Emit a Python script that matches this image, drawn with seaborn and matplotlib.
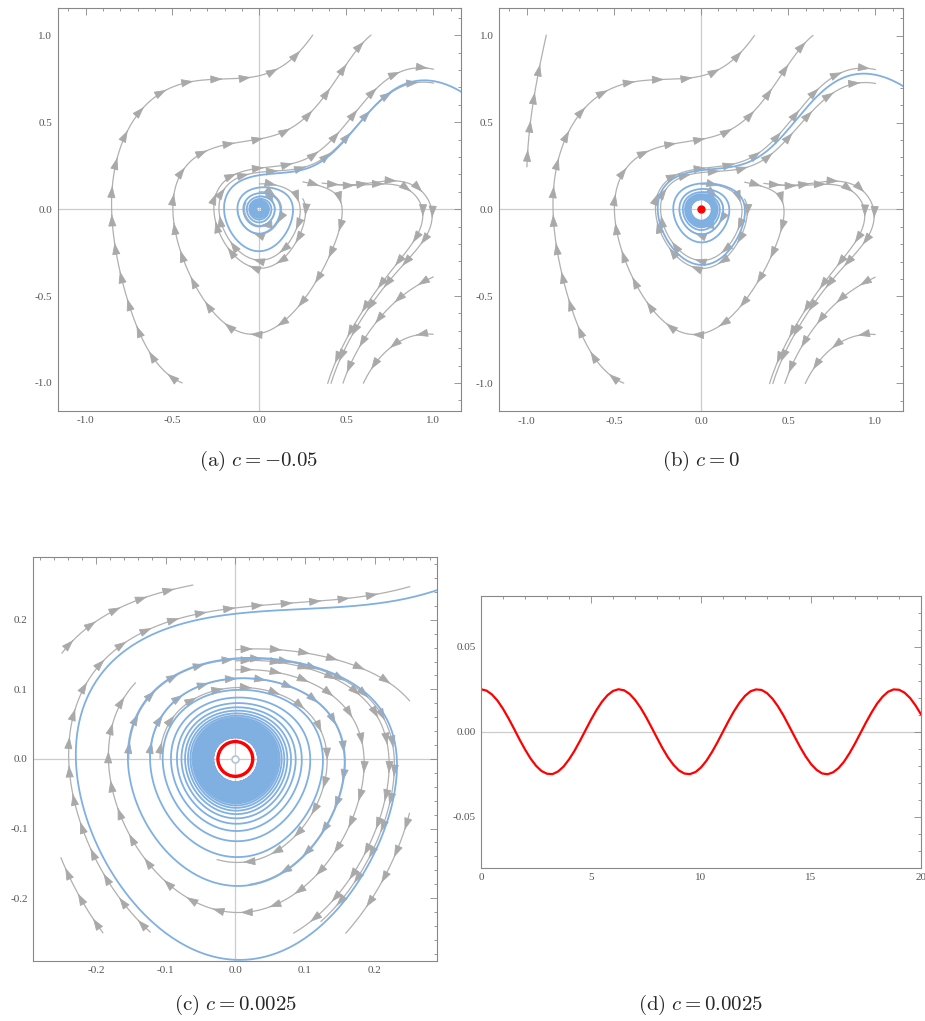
import numpy as np
import matplotlib
matplotlib.use('Agg')
import matplotlib.pyplot as plt
from matplotlib.ticker import MultipleLocator, FormatStrFormatter
import seaborn as sns

# parameter of each phase portrait
c_values = [-0.05, 0.0, 0.0025]

# vector field x' = y + P(x, y), y' = -x - c*y + Q(x, y)
# monomials: x2, xy, y2, x3, x2y, xy2, y3, x4, x3y, x2y2, xy3, y4
p_coef = [0.0036, -0.7102, -0.0008, 0.0589, 0.2858, -0.1160,
          -0.4978, 0.0287, 1.8831, 0.4944, -0.0350, -0.0424]
q_coef = [1.2651, 3.2788, 0.3755, 0.4635, 0.6290, 0.3263,
          0.3101, -1.1926, -3.5975, 0.3538, -1.4970, -0.6818]
radial_coef = 1.3282

# streamline seeds (x, y, max length in panel units)
seeds_a = [(-0.444, -1.0, 4), (0.0, 0.145, 4), (0.25, 0.06, 4), (0.25, 0.157, 4), (0.36, 0.15, 4),
           (0.45, 0.14, 4), (1.0, -0.39, 4), (1.0, -0.72, 4), (0.0, 0.10, 0.6), (0.0, 0.075, 0.45)]
seeds_b = seeds_a + [(-1.0, 0.245, 4)]
seeds_c = [(-0.249, 0.152, 4), (-0.122, -0.249, 4), (0.0, 0.157, 4), (0.0, 0.141, 4), (0.0, 0.128, 4),
           (0.25, -0.078, 4), (-0.19, -0.25, 4), (-0.153, 0.0, 3.2), (-0.122, 0.0, 2.6), (-0.108, 0.0, 2.4)]

# highlighted orbit: a point near which it passes, and its inner radius
blue_through = [(0.35, 0.27), (0.37, 0.33), (0.0, 0.157)]
blue_r_in = [0.015, 0.057, 0.031]
cycle_radius = 0.025

# panel (d): x(t) on the limit cycle
t_vals = [0, 0.25, 0.5, 0.75, 1, 1.25, 1.5, 1.75, 2, 2.25, 2.5, 2.75, 3, 3.25, 3.5, 3.75, 4, 4.25, 4.5, 4.75,
          5, 5.25, 5.5, 5.75, 6, 6.25, 6.5, 6.75, 7, 7.25, 7.5, 7.75, 8, 8.25, 8.5, 8.75, 9, 9.25, 9.5, 9.75,
          10, 10.25, 10.5, 10.75, 11, 11.25, 11.5, 11.75, 12, 12.25, 12.5, 12.75, 13, 13.25, 13.5, 13.75,
          14, 14.25, 14.5, 14.75, 15, 15.25, 15.5, 15.75, 16, 16.25, 16.5, 16.75, 17, 17.25, 17.5, 17.75,
          18, 18.25, 18.5, 18.75, 19, 19.25, 19.5, 19.75, 20]
x_vals = [0.0250, 0.0242, 0.0219, 0.0183, 0.0135, 0.0079, 0.0018, -0.0045, -0.0104, -0.0157, -0.0200, -0.0231,
          -0.0247, -0.0249, -0.0234, -0.0205, -0.0163, -0.0112, -0.0053, 0.0009, 0.0071, 0.0128, 0.0177, 0.0215,
          0.0240, 0.0250, 0.0244, 0.0223, 0.0188, 0.0142, 0.0087, 0.0026, -0.0036, -0.0097, -0.0151, -0.0195,
          -0.0228, -0.0246, -0.0249, -0.0237, -0.0210, -0.0170, -0.0119, -0.0061, 0.0001, 0.0063, 0.0121, 0.0171,
          0.0211, 0.0238, 0.0249, 0.0246, 0.0227, 0.0194, 0.0149, 0.0095, 0.0034, -0.0028, -0.0089, -0.0144,
          -0.0190, -0.0224, -0.0245, -0.0250, -0.0239, -0.0214, -0.0176, -0.0126, -0.0069, -0.0007, 0.0055,
          0.0113, 0.0165, 0.0206, 0.0235, 0.0249, 0.0247, 0.0230, 0.0199, 0.0155, 0.0102]

P_COEF = np.array(p_coef); Q_COEF = np.array(q_coef)


def field(x, y, c):
    m = np.array([x*x, x*y, y*y, x**3, x*x*y, x*y*y, y**3,
                  x**4, x**3*y, x*x*y*y, x*y**3, y**4])
    r2 = x*x + y*y
    g = radial_coef*r2*np.exp(-r2/0.0625)
    return y + P_COEF @ m + g*x, -x - c*y + Q_COEF @ m + g*y


def trace(p0, c, ds, box, smax=np.inf, sign=1.0, rmin=0.0, adapt=False, nmax=60000):
    p = np.array(p0, float); pts = [p.copy()]; s = 0.0

    def f(q):
        u, v = field(q[0], q[1], c); n = np.hypot(u, v) + 1e-12
        return sign*np.array([u/n, v/n])

    for _ in range(nmax):
        h = ds*max(np.hypot(*p), 0.005) if adapt else ds
        k1 = f(p); k2 = f(p + h/2*k1); k3 = f(p + h/2*k2); k4 = f(p + h*k3)
        p = p + h/6*(k1 + 2*k2 + 2*k3 + k4); s += h
        pts.append(p.copy())
        if abs(p[0]) > box or abs(p[1]) > box or s > smax or np.hypot(*p) < rmin:
            break
    return np.array(pts)


def blue_orbit(k, c, L, lim):
    # the orbit leaving the inner spiral and escaping to the upper right, near the given point
    x0, y0 = blue_through[k]
    weak = None
    any_orbit = None
    for j in range(80):
        dy = (j + 1)//2*0.002*L*(1 if j % 2 else -1)
        p0 = (x0, y0 + dy)
        fwd = trace(p0, c, 0.02, lim, adapt=True, nmax=3000)
        end = fwd[-1]
        if not (end[0] > 0.5*lim and end[1] > 0 and max(abs(end[0]), abs(end[1])) > lim):
            continue
        strong = end[1] > 0.4*lim
        if weak is not None and not strong:
            continue
        back = trace(p0, c, 0.02, lim, sign=-1.0, rmin=blue_r_in[k], adapt=True)
        orbit = np.vstack([back[::-1], fwd[1:]])
        ok = np.hypot(*back[-1]) < blue_r_in[k]*1.05
        if any_orbit is None:
            any_orbit = orbit
        if ok and strong:
            return orbit
        if ok and weak is None:
            weak = orbit
    return weak if weak is not None else any_orbit


def add_arrows(ax, P, spacing):
    seg = np.hypot(*np.diff(P, axis=0).T); cs = np.r_[0, np.cumsum(seg)]
    for s in np.arange(spacing*0.6, cs[-1] - spacing*0.2, spacing):
        i = np.searchsorted(cs, s)
        if i < 2 or i >= len(P) - 1:
            continue
        ax.annotate('', xy=P[i], xytext=P[i-1], zorder=3,
                    arrowprops=dict(arrowstyle='-|>,head_length=1.0,head_width=0.34', color='#a9a9a9',
                                    lw=0.6, shrinkA=0, shrinkB=0, mutation_scale=7.5))


gray = '#b0b0b0'
blue = '#80b0e2'

sns.set_style('white')
plt.rcParams['font.family'] = ['Liberation Serif', 'DejaVu Serif']
plt.rcParams['mathtext.fontset'] = 'cm'

fig = plt.figure(figsize=(9.25, 10.21), dpi=100)
ax_a = fig.add_axes([0.0624, 0.5977, 0.436, 0.3949])
ax_b = fig.add_axes([0.5395, 0.5975, 0.4368, 0.3947])
ax_c = fig.add_axes([0.036, 0.0591, 0.4368, 0.3951])
ax_d = fig.add_axes([0.52, 0.1501, 0.4757, 0.2664])

panels = [(ax_a, 0, 1.0, seeds_a, 0.0), (ax_b, 1, 1.0, seeds_b, 0.0), (ax_c, 2, 0.25, seeds_c, c_values[2])]
for ax, k, L, seeds, c_gray in panels:
    c = c_values[k]
    lim = L*1.16
    ax.axhline(0, color='#cccccc', lw=0.9, zorder=0)
    ax.axvline(0, color='#cccccc', lw=0.9, zorder=0)
    for x0, y0, smax in seeds:
        P = trace((x0, y0), c_gray, 0.004*L, L + 1e-9, smax*L)
        ax.plot(P[:, 0], P[:, 1], color=gray, lw=0.9, zorder=2)
        add_arrows(ax, P, 0.165*L)
    B = blue_orbit(k, c, L, lim)
    if B is not None:
        ax.plot(B[:, 0], B[:, 1], color=blue, lw=1.3, zorder=4)
    ax.set_xlim(-lim, lim); ax.set_ylim(-lim, lim)

ax_b.plot([0], [0], 'o', color='red', ms=5, zorder=6)
ax_c.add_patch(plt.Circle((0, 0), cycle_radius, fill=False, color='red', lw=2.4, zorder=6))
ax_c.plot([0], [0], 'o', ms=5, mfc='white', mec='#b8c4d0', mew=1.2, zorder=6)

ax_d.axhline(0, color='#cccccc', lw=0.9, zorder=0)
sns.lineplot(x=t_vals, y=x_vals, color='red', lw=1.6, ax=ax_d)
ax_d.set_xlim(0, 20); ax_d.set_ylim(-0.08, 0.08)

for ax, maj, mnr in [(ax_a, 0.5, 0.1), (ax_b, 0.5, 0.1), (ax_c, 0.1, 0.02)]:
    for axis in (ax.xaxis, ax.yaxis):
        axis.set_major_locator(MultipleLocator(maj)); axis.set_minor_locator(MultipleLocator(mnr))
        axis.set_major_formatter(FormatStrFormatter('%.1f'))
ax_d.xaxis.set_major_locator(MultipleLocator(5)); ax_d.xaxis.set_minor_locator(MultipleLocator(1))
ax_d.yaxis.set_major_locator(MultipleLocator(0.05)); ax_d.yaxis.set_minor_locator(MultipleLocator(0.01))
ax_d.yaxis.set_major_formatter(FormatStrFormatter('%.2f'))

for ax in (ax_a, ax_b, ax_c, ax_d):
    ax.tick_params(which='both', direction='in', top=True, right=True, colors='#888888',
                   labelcolor='#555555', labelsize=8, width=0.6, pad=4)
    ax.tick_params(which='major', length=5)
    ax.tick_params(which='minor', length=2.5)
    for sp in ax.spines.values():
        sp.set_color('#888888'); sp.set_linewidth(0.8)
    ax.set_xlabel(''); ax.set_ylabel('')

fs = 15
fig.text(0.28, 0.5485, r'$\mathrm{(a)}\ c = -0.05$', ha='center', va='center', fontsize=fs)
fig.text(0.758, 0.5485, r'$\mathrm{(b)}\ c = 0$', ha='center', va='center', fontsize=fs)
fig.text(0.254, 0.0157, r'$\mathrm{(c)}\ c = 0.0025$', ha='center', va='center', fontsize=fs)
fig.text(0.757, 0.0157, r'$\mathrm{(d)}\ c = 0.0025$', ha='center', va='center', fontsize=fs)

fig.savefig('out.png', dpi=100)
